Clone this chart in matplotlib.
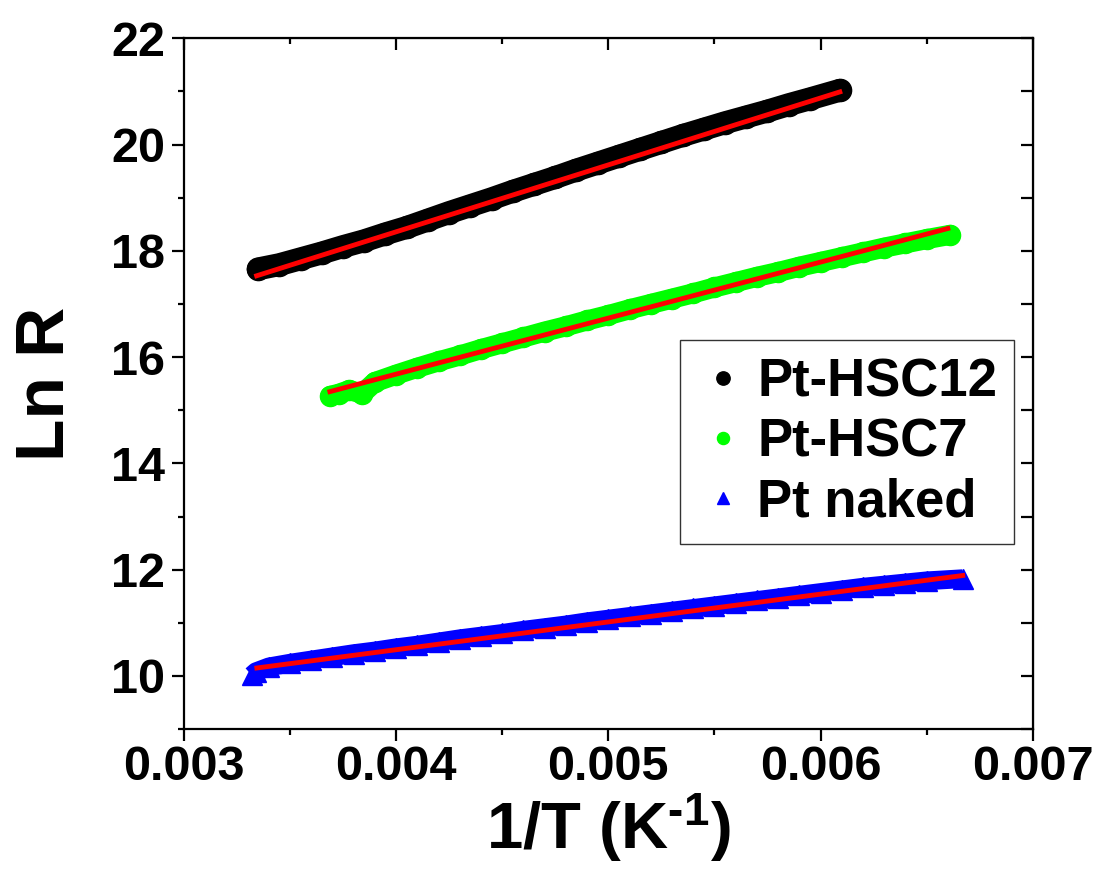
import matplotlib
matplotlib.use('Agg')
import matplotlib.pyplot as plt
from matplotlib.ticker import MultipleLocator, FormatStrFormatter

plt.rcParams['font.family'] = ['Liberation Sans', 'DejaVu Sans']
plt.rcParams['font.weight'] = 'bold'
plt.rcParams['mathtext.fontset'] = 'custom'
plt.rcParams['mathtext.rm'] = 'Liberation Sans:bold'
plt.rcParams['mathtext.bf'] = 'Liberation Sans:bold'
plt.rcParams['mathtext.default'] = 'rm'

# Pt-HSC12 (black circles)
x_hsc12 = [0.00335, 0.00345, 0.00355, 0.00365, 0.00375, 0.00385, 0.00395, 0.00405,
           0.00415, 0.00425, 0.00435, 0.00445, 0.00455, 0.00465, 0.00475, 0.00485,
           0.00495, 0.00505, 0.00515, 0.00525, 0.00535, 0.00545, 0.00555, 0.00565,
           0.00575, 0.00585, 0.00595, 0.00609]
y_hsc12 = [17.66, 17.74, 17.85, 17.96, 18.08, 18.19, 18.32, 18.44,
           18.58, 18.72, 18.85, 18.98, 19.12, 19.25, 19.38, 19.52,
           19.65, 19.78, 19.91, 20.04, 20.17, 20.29, 20.41, 20.52,
           20.63, 20.75, 20.86, 21.02]

# Pt-HSC7 (green circles)
x_hsc7 = [0.00369, 0.00373, 0.00378, 0.00384, 0.00390, 0.00400, 0.00410, 0.00420,
          0.00430, 0.00440, 0.00450, 0.00460, 0.00470, 0.00480, 0.00490, 0.00500,
          0.00510, 0.00520, 0.00530, 0.00540, 0.00550, 0.00560, 0.00570, 0.00580,
          0.00590, 0.00600, 0.00610, 0.00620, 0.00630, 0.00640, 0.00650, 0.00661]
y_hsc7 = [15.27, 15.31, 15.38, 15.31, 15.53, 15.67, 15.80, 15.92,
          16.03, 16.15, 16.26, 16.37, 16.48, 16.58, 16.69, 16.79,
          16.90, 17.00, 17.10, 17.20, 17.31, 17.41, 17.51, 17.60,
          17.70, 17.79, 17.88, 17.97, 18.06, 18.14, 18.22, 18.30]

# Pt naked (blue triangles)
x_naked = [0.00332, 0.00334, 0.00340, 0.00350, 0.00360, 0.00370, 0.00380, 0.00390,
           0.00400, 0.00410, 0.00420, 0.00430, 0.00440, 0.00450, 0.00460, 0.00470,
           0.00480, 0.00490, 0.00500, 0.00510, 0.00520, 0.00530, 0.00540, 0.00550,
           0.00560, 0.00570, 0.00580, 0.00590, 0.00600, 0.00610, 0.00620, 0.00630,
           0.00640, 0.00650, 0.00667]
y_naked = [10.01, 10.08, 10.17, 10.24, 10.30, 10.36, 10.42, 10.47,
           10.53, 10.58, 10.64, 10.70, 10.75, 10.80, 10.86, 10.91,
           10.96, 11.02, 11.07, 11.12, 11.17, 11.22, 11.27, 11.32,
           11.37, 11.42, 11.47, 11.52, 11.57, 11.62, 11.67, 11.71,
           11.75, 11.79, 11.83]

# linear fits (red lines), end points
fit_hsc12_x = [0.003343, 0.006091]
fit_hsc12_y = [17.53, 20.99]
fit_hsc7_x = [0.003688, 0.006600]
fit_hsc7_y = [15.35, 18.42]
fit_naked_x = [0.003344, 0.006670]
fit_naked_y = [10.15, 11.89]

labels = ['Pt-HSC12', 'Pt-HSC7', 'Pt naked']

fig = plt.figure(figsize=(11.01, 8.69), dpi=100)
ax = fig.add_axes([0.167, 0.161, 0.771, 0.795])

# dense data drawn as thick bands plus markers
ax.plot(x_hsc12, y_hsc12, '-', color='black', lw=16.5, solid_capstyle='round', label='_nolegend_')
ax.plot(x_hsc12, y_hsc12, 'o', color='black', ms=16, label=labels[0])
ax.plot(x_hsc7, y_hsc7, '-', color='#00ff00', lw=14.5, solid_capstyle='round', label='_nolegend_')
ax.plot(x_hsc7, y_hsc7, 'o', color='#00ff00', ms=14.5, label=labels[1])
ax.plot(x_naked, y_naked, '-', color='#0000ff', lw=13.5, solid_capstyle='butt', label='_nolegend_')
ax.plot(x_naked, y_naked, '^', color='#0000ff', ms=14, label=labels[2])

ax.plot(fit_hsc12_x, fit_hsc12_y, '-', color='red', lw=3.5)
ax.plot(fit_hsc7_x, fit_hsc7_y, '-', color='red', lw=3.5)
ax.plot(fit_naked_x, fit_naked_y, '-', color='red', lw=3.5)

ax.set_xlim(0.003, 0.007)
ax.set_ylim(9, 22)
ax.xaxis.set_major_locator(MultipleLocator(0.001))
ax.xaxis.set_minor_locator(MultipleLocator(0.0005))
ax.xaxis.set_major_formatter(FormatStrFormatter('%.3f'))
ax.yaxis.set_major_locator(MultipleLocator(2))
ax.yaxis.set_minor_locator(MultipleLocator(1))

for s in ax.spines.values():
    s.set_linewidth(1.6)
ax.tick_params(which='major', direction='out', length=8.5, width=1.6, labelsize=35)
ax.tick_params(which='minor', direction='out', length=4.5, width=1.6)
ax.tick_params(axis='x', which='major', pad=3)
ax.tick_params(axis='y', which='major', pad=5)

top = ax.secondary_xaxis('top')
top.xaxis.set_major_locator(MultipleLocator(0.001))
top.xaxis.set_minor_locator(MultipleLocator(0.0005))
top.tick_params(which='major', direction='in', length=8.5, width=1.6, labeltop=False)
top.tick_params(which='minor', direction='in', length=4.5, width=1.6)

right = ax.secondary_yaxis('right')
right.yaxis.set_major_locator(MultipleLocator(1))
right.tick_params(which='major', direction='in', length=8.5, width=1.6, labelright=False)
right.tick_params(which='minor', length=0)

ax.set_xlabel(r'1/T (K$^{\text{-}1}$)', fontsize=47, fontweight='bold', labelpad=1)
ax.set_ylabel('Ln R', fontsize=50, fontweight='bold', labelpad=24)

leg = ax.legend(loc='upper left', bbox_to_anchor=(0.584, 0.563), borderaxespad=0,
                prop={'size': 38, 'weight': 'bold'}, markerscale=0.6,
                handlelength=1.0, handletextpad=0.15, borderpad=0.32,
                labelspacing=0.19, fancybox=False, framealpha=1)
leg.get_frame().set_edgecolor('#333333')
leg.get_frame().set_linewidth(1.0)

fig.savefig('out.png', dpi=100)
